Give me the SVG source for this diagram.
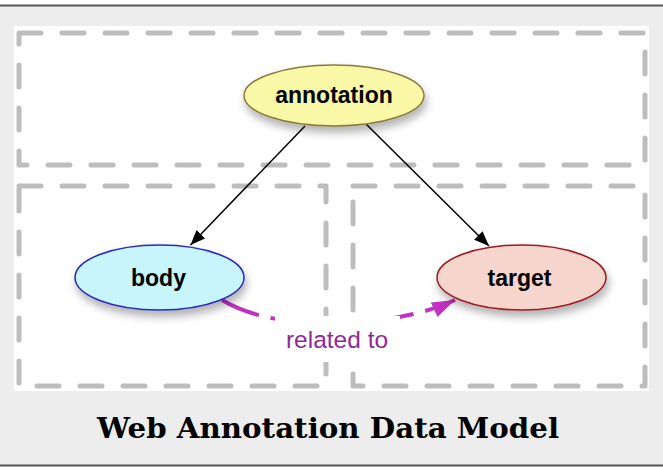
<svg xmlns="http://www.w3.org/2000/svg" width="663" height="469" viewBox="0 0 663 469">
<style>
.region{fill:none;stroke:#bdbdbd;stroke-width:5;stroke-dasharray:22 21;stroke-linecap:round;stroke-linejoin:round}
.node text{font-family:"Liberation Sans",Arial,sans-serif;font-weight:bold;font-size:23px;fill:#000;text-anchor:middle}
.edge{stroke:#000;stroke-width:1.5;fill:none}
.rel{stroke:#c232c2;stroke-width:4;fill:none;stroke-dasharray:40 12}
</style>
<defs>
<filter id="sh" x="-30%" y="-30%" width="160%" height="180%">
<feDropShadow dx="2" dy="6" stdDeviation="4" flood-color="#000" flood-opacity="0.3"/>
</filter>
<marker id="ab" markerUnits="userSpaceOnUse" markerWidth="16" markerHeight="12" refX="15" refY="6" orient="auto">
<path d="M0,0 L15,6 L0,12 Z" fill="#000"/>
</marker>
<marker id="am" markerUnits="userSpaceOnUse" markerWidth="24" markerHeight="16" refX="23" refY="8" orient="auto">
<path d="M0,0 L23,8 L0,16 Z" fill="#c232c2"/>
</marker>
</defs>
<rect x="0" y="0" width="663" height="469" fill="#ffffff"/>
<rect x="0" y="6" width="663" height="459" fill="#ededed"/>
<line x1="0" y1="5.5" x2="663" y2="5.5" stroke="#555" stroke-width="2"/>
<line x1="0" y1="465.5" x2="663" y2="465.5" stroke="#555" stroke-width="2"/>
<rect x="14" y="26" width="635" height="365" fill="#ffffff"/>
<g id="regions">
<rect class="region" x="19" y="33" width="626" height="132"/>
<rect class="region" x="19" y="186" width="307" height="200"/>
<rect class="region" x="353" y="186" width="292" height="200"/>
</g>
<g id="connectors">
<line class="edge" x1="305" y1="126" x2="190.5" y2="245" marker-end="url(#ab)"/>
<line class="edge" x1="366" y1="124" x2="489" y2="246" marker-end="url(#ab)"/>
<path class="rel" d="M222,300 C280,335 395,328 455,300" marker-end="url(#am)"/>
<rect x="275" y="316" width="125" height="46" fill="#ffffff"/>
<text x="337" y="348" font-family="Liberation Sans, Arial, sans-serif" font-size="24.5" fill="#8e2a98" text-anchor="middle">related to</text>
</g>
<g id="annotation" class="node">
<ellipse cx="334" cy="95.5" rx="90" ry="30.5" fill="#f8f8a6" stroke="#8c7a3c" stroke-width="1.5" filter="url(#sh)"/>
<text x="334" y="102.5">annotation</text>
</g>
<g id="body" class="node">
<ellipse cx="159.5" cy="277.5" rx="84.5" ry="32.5" fill="#c8f4fb" stroke="#2a2ab8" stroke-width="1.5" filter="url(#sh)"/>
<text x="158.5" y="286">body</text>
</g>
<g id="target" class="node">
<ellipse cx="521.5" cy="277.5" rx="84.5" ry="32.5" fill="#f6d5cc" stroke="#9a1a20" stroke-width="1.5" filter="url(#sh)"/>
<text x="519.5" y="286">target</text>
</g>
<text x="328" y="438" font-family="DejaVu Serif, serif" font-weight="bold" font-size="27" text-anchor="middle" textLength="462" lengthAdjust="spacingAndGlyphs" fill="#000">Web Annotation Data Model</text>
</svg>
